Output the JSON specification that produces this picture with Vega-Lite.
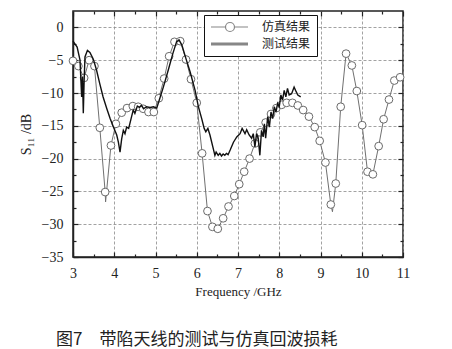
{
  "$schema": "https://vega.github.io/schema/vega-lite/v6.json",
  "autosize": {"type": "none"},
  "width": 330,
  "height": 246,
  "padding": {"left": 73, "top": 11, "right": 49, "bottom": 92},
  "background": "white",
  "config": {"view": {"stroke": "#222", "strokeWidth": 1.5}, "font": "Liberation Serif"},
  "title": {"text": "图7　带陷天线的测试与仿真回波损耗", "orient": "bottom", "anchor": "start", "font": "Noto Sans CJK SC", "fontSize": 17, "fontWeight": "normal", "color": "#222", "offset": 34, "dx": 37},
  "datasets": {
    "sim": [
      {"f": 3.00, "s": -5.1, "m": 1}, {"f": 3.13, "s": -5.9, "m": 1}, {"f": 3.27, "s": -7.7, "m": 1},
      {"f": 3.39, "s": -5.0, "m": 1}, {"f": 3.52, "s": -5.9, "m": 1}, {"f": 3.65, "s": -15.3, "m": 1},
      {"f": 3.78, "s": -25.1, "m": 1}, {"f": 3.79, "s": -26.6, "m": 0}, {"f": 3.92, "s": -18.0, "m": 1},
      {"f": 4.04, "s": -14.7, "m": 1}, {"f": 4.18, "s": -13.0, "m": 1}, {"f": 4.31, "s": -12.3, "m": 1},
      {"f": 4.45, "s": -12.0, "m": 1}, {"f": 4.58, "s": -12.1, "m": 1}, {"f": 4.70, "s": -12.4, "m": 1},
      {"f": 4.83, "s": -12.9, "m": 1}, {"f": 4.96, "s": -12.9, "m": 1}, {"f": 5.08, "s": -10.8, "m": 1},
      {"f": 5.21, "s": -7.8, "m": 1}, {"f": 5.33, "s": -4.4, "m": 1}, {"f": 5.46, "s": -2.2, "m": 1},
      {"f": 5.60, "s": -2.1, "m": 1}, {"f": 5.74, "s": -4.9, "m": 1}, {"f": 5.86, "s": -7.9, "m": 1},
      {"f": 6.00, "s": -11.5, "m": 1}, {"f": 6.13, "s": -19.2, "m": 1}, {"f": 6.26, "s": -28.0, "m": 1},
      {"f": 6.38, "s": -30.4, "m": 1}, {"f": 6.51, "s": -30.7, "m": 1}, {"f": 6.64, "s": -29.1, "m": 1},
      {"f": 6.77, "s": -27.3, "m": 1}, {"f": 6.91, "s": -25.7, "m": 1}, {"f": 7.03, "s": -23.9, "m": 1},
      {"f": 7.15, "s": -22.0, "m": 1}, {"f": 7.28, "s": -20.0, "m": 1}, {"f": 7.41, "s": -17.7, "m": 1},
      {"f": 7.54, "s": -16.0, "m": 1}, {"f": 7.67, "s": -14.5, "m": 1}, {"f": 7.80, "s": -13.2, "m": 1},
      {"f": 7.93, "s": -12.3, "m": 1}, {"f": 8.06, "s": -11.8, "m": 1}, {"f": 8.18, "s": -11.5, "m": 1},
      {"f": 8.32, "s": -11.5, "m": 1}, {"f": 8.45, "s": -11.9, "m": 1}, {"f": 8.58, "s": -12.6, "m": 1},
      {"f": 8.72, "s": -13.6, "m": 1}, {"f": 8.86, "s": -15.2, "m": 1}, {"f": 8.98, "s": -17.3, "m": 1},
      {"f": 9.12, "s": -20.6, "m": 1}, {"f": 9.25, "s": -27.0, "m": 1}, {"f": 9.29, "s": -28.1, "m": 0},
      {"f": 9.37, "s": -23.8, "m": 1}, {"f": 9.49, "s": -12.1, "m": 1}, {"f": 9.62, "s": -4.0, "m": 1},
      {"f": 9.76, "s": -5.8, "m": 1}, {"f": 9.88, "s": -9.7, "m": 1}, {"f": 10.01, "s": -14.9, "m": 1},
      {"f": 10.14, "s": -22.0, "m": 1}, {"f": 10.27, "s": -22.4, "m": 1}, {"f": 10.41, "s": -18.1, "m": 1},
      {"f": 10.53, "s": -14.0, "m": 1}, {"f": 10.66, "s": -11.0, "m": 1}, {"f": 10.79, "s": -8.1, "m": 1},
      {"f": 10.93, "s": -7.6, "m": 1}, {"f": 11.0, "s": -7.4, "m": 0}
    ],
    "meas": [
      {"f": 3.00, "s": -2.1}, {"f": 3.10, "s": -3.0}, {"f": 3.17, "s": -5.0}, {"f": 3.21, "s": -10.6},
      {"f": 3.23, "s": -7.5}, {"f": 3.25, "s": -13.1}, {"f": 3.27, "s": -8.1}, {"f": 3.29, "s": -4.5},
      {"f": 3.35, "s": -3.5}, {"f": 3.41, "s": -3.8}, {"f": 3.49, "s": -4.8}, {"f": 3.57, "s": -6.5},
      {"f": 3.65, "s": -8.6}, {"f": 3.73, "s": -10.6}, {"f": 3.82, "s": -12.4}, {"f": 3.90, "s": -13.9},
      {"f": 3.98, "s": -15.2}, {"f": 4.06, "s": -16.4}, {"f": 4.10, "s": -17.5}, {"f": 4.14, "s": -19.0},
      {"f": 4.18, "s": -17.0}, {"f": 4.22, "s": -15.7}, {"f": 4.26, "s": -16.2}, {"f": 4.30, "s": -15.2},
      {"f": 4.35, "s": -15.4}, {"f": 4.42, "s": -13.6}, {"f": 4.46, "s": -12.6}, {"f": 4.50, "s": -13.1},
      {"f": 4.56, "s": -12.0}, {"f": 4.61, "s": -12.2}, {"f": 4.66, "s": -11.9}, {"f": 4.71, "s": -12.4},
      {"f": 4.78, "s": -12.1}, {"f": 4.87, "s": -12.2}, {"f": 4.95, "s": -12.1}, {"f": 5.03, "s": -12.3},
      {"f": 5.09, "s": -11.1}, {"f": 5.19, "s": -9.1}, {"f": 5.31, "s": -6.5}, {"f": 5.42, "s": -4.0},
      {"f": 5.51, "s": -2.2}, {"f": 5.57, "s": -1.9}, {"f": 5.64, "s": -2.7}, {"f": 5.74, "s": -4.8},
      {"f": 5.84, "s": -6.8}, {"f": 5.96, "s": -9.6}, {"f": 6.04, "s": -12.1}, {"f": 6.12, "s": -13.9},
      {"f": 6.18, "s": -15.4}, {"f": 6.22, "s": -15.9}, {"f": 6.27, "s": -15.4}, {"f": 6.32, "s": -16.4},
      {"f": 6.39, "s": -18.2}, {"f": 6.44, "s": -19.5}, {"f": 6.47, "s": -19.0}, {"f": 6.52, "s": -19.5},
      {"f": 6.56, "s": -19.2}, {"f": 6.60, "s": -19.6}, {"f": 6.64, "s": -19.3}, {"f": 6.68, "s": -19.5},
      {"f": 6.72, "s": -19.2}, {"f": 6.76, "s": -19.4}, {"f": 6.81, "s": -18.7}, {"f": 6.89, "s": -17.5},
      {"f": 6.97, "s": -16.7}, {"f": 7.05, "s": -16.2}, {"f": 7.10, "s": -15.4}, {"f": 7.17, "s": -16.2},
      {"f": 7.21, "s": -15.6}, {"f": 7.27, "s": -16.4}, {"f": 7.33, "s": -16.9}, {"f": 7.37, "s": -16.2},
      {"f": 7.41, "s": -18.2}, {"f": 7.45, "s": -16.2}, {"f": 7.49, "s": -16.9}, {"f": 7.53, "s": -19.5},
      {"f": 7.57, "s": -15.7}, {"f": 7.61, "s": -16.7}, {"f": 7.64, "s": -14.7}, {"f": 7.67, "s": -16.9},
      {"f": 7.72, "s": -13.6}, {"f": 7.76, "s": -15.2}, {"f": 7.80, "s": -12.9}, {"f": 7.84, "s": -13.9},
      {"f": 7.88, "s": -12.1}, {"f": 7.92, "s": -12.9}, {"f": 7.96, "s": -11.6}, {"f": 8.00, "s": -12.1},
      {"f": 8.04, "s": -10.3}, {"f": 8.08, "s": -11.1}, {"f": 8.12, "s": -9.6}, {"f": 8.16, "s": -10.6},
      {"f": 8.20, "s": -9.3}, {"f": 8.24, "s": -10.3}, {"f": 8.30, "s": -10.1}, {"f": 8.36, "s": -9.1},
      {"f": 8.41, "s": -9.8}, {"f": 8.45, "s": -10.3}, {"f": 8.52, "s": -10.6}
    ]
  },
  "resolve": {"axis": {"x": "independent", "y": "independent"}},
  "layer": [
    {
      "data": {"name": "sim"},
      "mark": {"type": "line", "color": "#707070", "strokeWidth": 1},
      "encoding": {
        "x": {"field": "f", "type": "quantitative", "scale": {"domain": [3, 11], "nice": false, "zero": false},
          "axis": {"orient": "bottom", "values": [3, 4, 5, 6, 7, 8, 9, 10, 11], "title": "Frequency /GHz", "titleFont": "Liberation Serif", "titleFontSize": 13, "titleFontWeight": "normal", "titleColor": "#222", "titlePadding": 5,
            "labelFont": "Liberation Serif", "labelFontSize": 14, "labelColor": "#222", "labelPadding": 14, "labelFlush": false,
            "tickSize": -5, "tickColor": "#222", "tickWidth": 1.2, "domainColor": "#222", "domainWidth": 1.5,
            "grid": true, "gridDash": [3, 2], "gridColor": "#8a8a8a", "gridWidth": 0.8}},
        "y": {"field": "s", "type": "quantitative", "scale": {"domain": [-35, 2.5], "nice": false, "zero": false},
          "axis": {"orient": "left", "values": [-35, -30, -25, -20, -15, -10, -5, 0], "title": "S₁₁ /dB", "titleFont": "Liberation Serif", "titleFontSize": 14, "titleFontWeight": "normal", "titleColor": "#222", "titlePadding": 8,
            "labelFont": "Liberation Serif", "labelFontSize": 14, "labelColor": "#222", "labelPadding": 15, "labelFlush": false,
            "tickSize": -5, "tickColor": "#222", "tickWidth": 1.2, "domainColor": "#222", "domainWidth": 1.5,
            "grid": true, "gridDash": [3, 2], "gridColor": "#8a8a8a", "gridWidth": 0.8}}
      }
    },
    {
      "data": {"name": "sim"},
      "transform": [{"filter": "datum.m == 1"}],
      "mark": {"type": "point", "filled": false, "fill": "white", "stroke": "#6a6a6a", "strokeWidth": 1, "size": 60, "opacity": 1},
      "encoding": {
        "x": {"field": "f", "type": "quantitative",
          "axis": {"orient": "top", "values": [3, 4, 5, 6, 7, 8, 9, 10, 11], "title": null, "labels": false, "grid": false, "domain": false, "tickSize": -5, "tickColor": "#222", "tickWidth": 1.2}},
        "y": {"field": "s", "type": "quantitative",
          "axis": {"orient": "right", "values": [-35, -30, -25, -20, -15, -10, -5, 0], "title": null, "labels": false, "grid": false, "domain": false, "tickSize": -5, "tickColor": "#222", "tickWidth": 1.2}}
      }
    },
    {
      "data": {"name": "meas"},
      "mark": {"type": "line", "color": "#111", "strokeWidth": 1.4},
      "encoding": {
        "x": {"field": "f", "type": "quantitative",
          "axis": {"orient": "bottom", "values": [3.5, 4.5, 5.5, 6.5, 7.5, 8.5, 9.5, 10.5], "title": null, "labels": false, "grid": false, "domain": false, "tickSize": -3, "tickColor": "#222", "tickWidth": 1.2}},
        "y": {"field": "s", "type": "quantitative",
          "axis": {"orient": "left", "values": [-32.5, -27.5, -22.5, -17.5, -12.5, -7.5, -2.5], "title": null, "labels": false, "grid": false, "domain": false, "tickSize": -3, "tickColor": "#222", "tickWidth": 1.2}}
      }
    },
    {
      "data": {"name": "sim"},
      "transform": [{"filter": "datum.f > 100"}],
      "mark": {"type": "point", "filled": false, "color": "#555"},
      "encoding": {
        "x": {"field": "f", "type": "quantitative",
          "axis": {"orient": "top", "values": [3.5, 4.5, 5.5, 6.5, 7.5, 8.5, 9.5, 10.5], "title": null, "labels": false, "grid": false, "domain": false, "tickSize": -3, "tickColor": "#222", "tickWidth": 1.2}},
        "y": {"field": "s", "type": "quantitative",
          "axis": {"orient": "right", "values": [-32.5, -27.5, -22.5, -17.5, -12.5, -7.5, -2.5], "title": null, "labels": false, "grid": false, "domain": false, "tickSize": -3, "tickColor": "#222", "tickWidth": 1.2}},
        "shape": {"field": "series", "type": "nominal",
          "scale": {"domain": ["仿真结果", "测试结果"], "range": ["M-1,0H1.9M3.7,0H6.4M1.9,0C1.9,-0.497 2.303,-0.9 2.8,-0.9C3.297,-0.9 3.7,-0.497 3.7,0C3.7,0.497 3.297,0.9 2.8,0.9C2.303,0.9 1.9,0.497 1.9,0Z", "M-1,-0.2H6.4M-1,0H6.4M-1,0.2H6.4"]},
          "legend": {"title": null, "orient": "none", "legendX": 131, "legendY": 4, "direction": "vertical",
            "strokeColor": "#111", "fillColor": "white", "padding": 6, "symbolSize": 100, "symbolStrokeWidth": 1.2,
            "labelFont": "Noto Sans CJK SC", "labelFontSize": 12, "labelColor": "#222", "labelOffset": 40, "rowPadding": 4,
            "encode": {"symbols": {"update": {"fill": {"value": "white"}, "stroke": {"value": "#555"}, "strokeWidth": {"value": 1.2}, "opacity": {"value": 1}}},
                       "legend": {"update": {"strokeWidth": {"value": 1.5}}}}}}
      }
    }
  ]
}
